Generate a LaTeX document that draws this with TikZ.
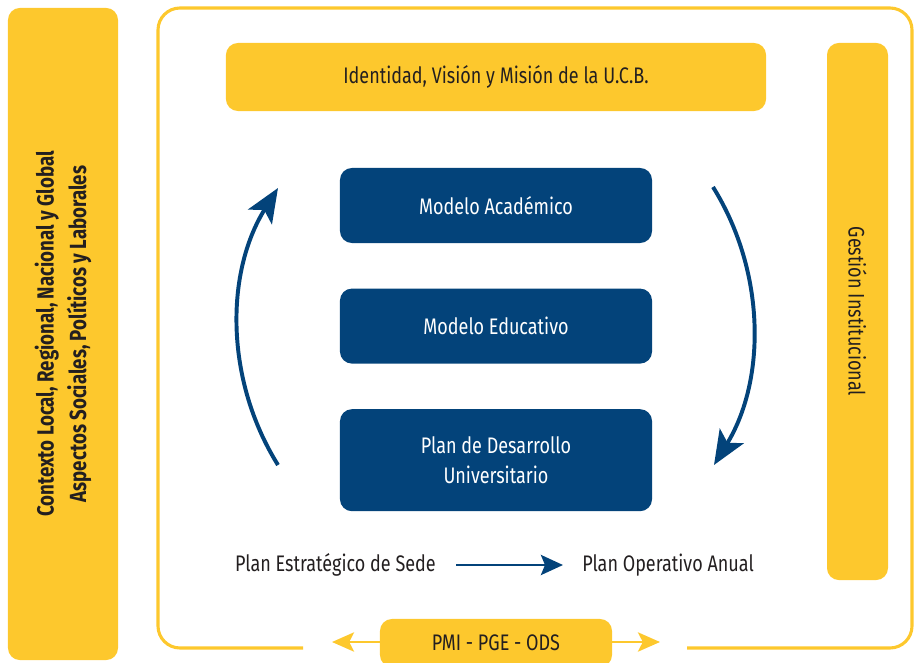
\documentclass[tikz,border=0pt]{standalone}
\usepackage{fontspec}
\setmainfont{Fira Sans}[FakeStretch=0.8]
\usepackage{xcolor}
\usepackage{tikz}
\definecolor{ucbyellow}{RGB}{253,200,45}
\definecolor{ucbblue}{RGB}{3,67,122}
\definecolor{ink}{RGB}{35,31,32}
\usetikzlibrary{arrows.meta,positioning}

\begin{document}
\begin{tikzpicture}[x=0.025cm,y=-0.025cm,
    yellowbox/.style={fill=ucbyellow, rounded corners=0.3cm, text=ink, inner sep=0pt, align=center},
    bluebox/.style={fill=ucbblue, rounded corners=0.3cm, text=white, inner sep=0pt, align=center,
        minimum width=7.8cm, font=\fontsize{16}{22}\selectfont},
    cyclearrow/.style={ucbblue, line width=2.8pt, -{Stealth[length=0.85cm,width=0.7cm,inset=0.2cm]}},
    flowarrow/.style={ucbblue, line width=2.1pt, -{Stealth[length=0.55cm,width=0.5cm,inset=0.1cm]}},
    sidearrow/.style={ucbyellow, line width=2pt, -{Stealth[length=0.55cm,width=0.48cm,inset=0.12cm]}},
    plantext/.style={text=ink, inner sep=0pt, font=\fontsize{16}{20}\selectfont}]
    \clip (0,0) rectangle (914,663);

    % context bar on the left
    \node[yellowbox, rotate=90, minimum width=16.3cm, minimum height=2.75cm,
        font=\bfseries\fontsize{16.6}{23}\selectfont] (contexto) at (63,334)
        {Contexto Local, Regional, Nacional y Global\\Aspectos Sociales, Políticos y Laborales};

    % outer frame, open at the bottom
    \draw[ucbyellow, line width=2.2pt, rounded corners=0.55cm]
        (303,648) -- (158,648) -- (158,8) -- (912,8) -- (912,648) -- (687,648);

    \node[yellowbox, minimum width=13.5cm, minimum height=1.7cm,
        font=\fontsize{16}{20}\selectfont] (identidad) at (496,77)
        {Identidad, Visión y Misión de la U.C.B.};
    \node[yellowbox, rotate=-90, minimum width=13.425cm, minimum height=1.525cm,
        font=\fontsize{16}{20}\selectfont] (gestion) at (857.5,311.5)
        {Gestión Institucional};

    % models
    \node[bluebox, minimum height=1.875cm] (academico) at (496,205.5) {Modelo Académico};
    \node[bluebox, minimum height=1.875cm, below=1.125cm of academico] (educativo) {Modelo Educativo};
    \node[bluebox, minimum height=2.55cm, below=1.125cm of educativo] (pdu) {Plan de Desarrollo\\Universitario};

    % cycle
    \coordinate (lstart) at (278,465);
    \coordinate (lend) at (278,188);
    \coordinate (rstart) at (713,187);
    \coordinate (rend) at (714,465);
    \draw[cyclearrow] (lstart) .. controls (225,380) and (225,273) .. (lend);
    \draw[cyclearrow] (rstart) .. controls (766,272) and (766,380) .. (rend);

    % plans
    \node[plantext, anchor=east] (sede) at (436,565) {Plan Estratégico de Sede};
    \node[plantext, anchor=west] (poa) at (582,565) {Plan Operativo Anual};
    \draw[flowarrow, shorten <=0.5cm, shorten >=0.475cm] (sede.east) -- (poa.west);

    % bottom label
    \node[yellowbox, minimum width=5.8cm, minimum height=1.2cm,
        font=\fontsize{16}{20}\selectfont] (pmi) at (496,643) {PMI - PGE - ODS};
    \coordinate (pmileft) at (332,642);
    \coordinate (pmiright) at (660,642);
    \draw[sidearrow] (pmi.west |- pmileft) -- (pmileft);
    \draw[sidearrow] (pmi.east |- pmiright) -- (pmiright);
\end{tikzpicture}
\end{document}
